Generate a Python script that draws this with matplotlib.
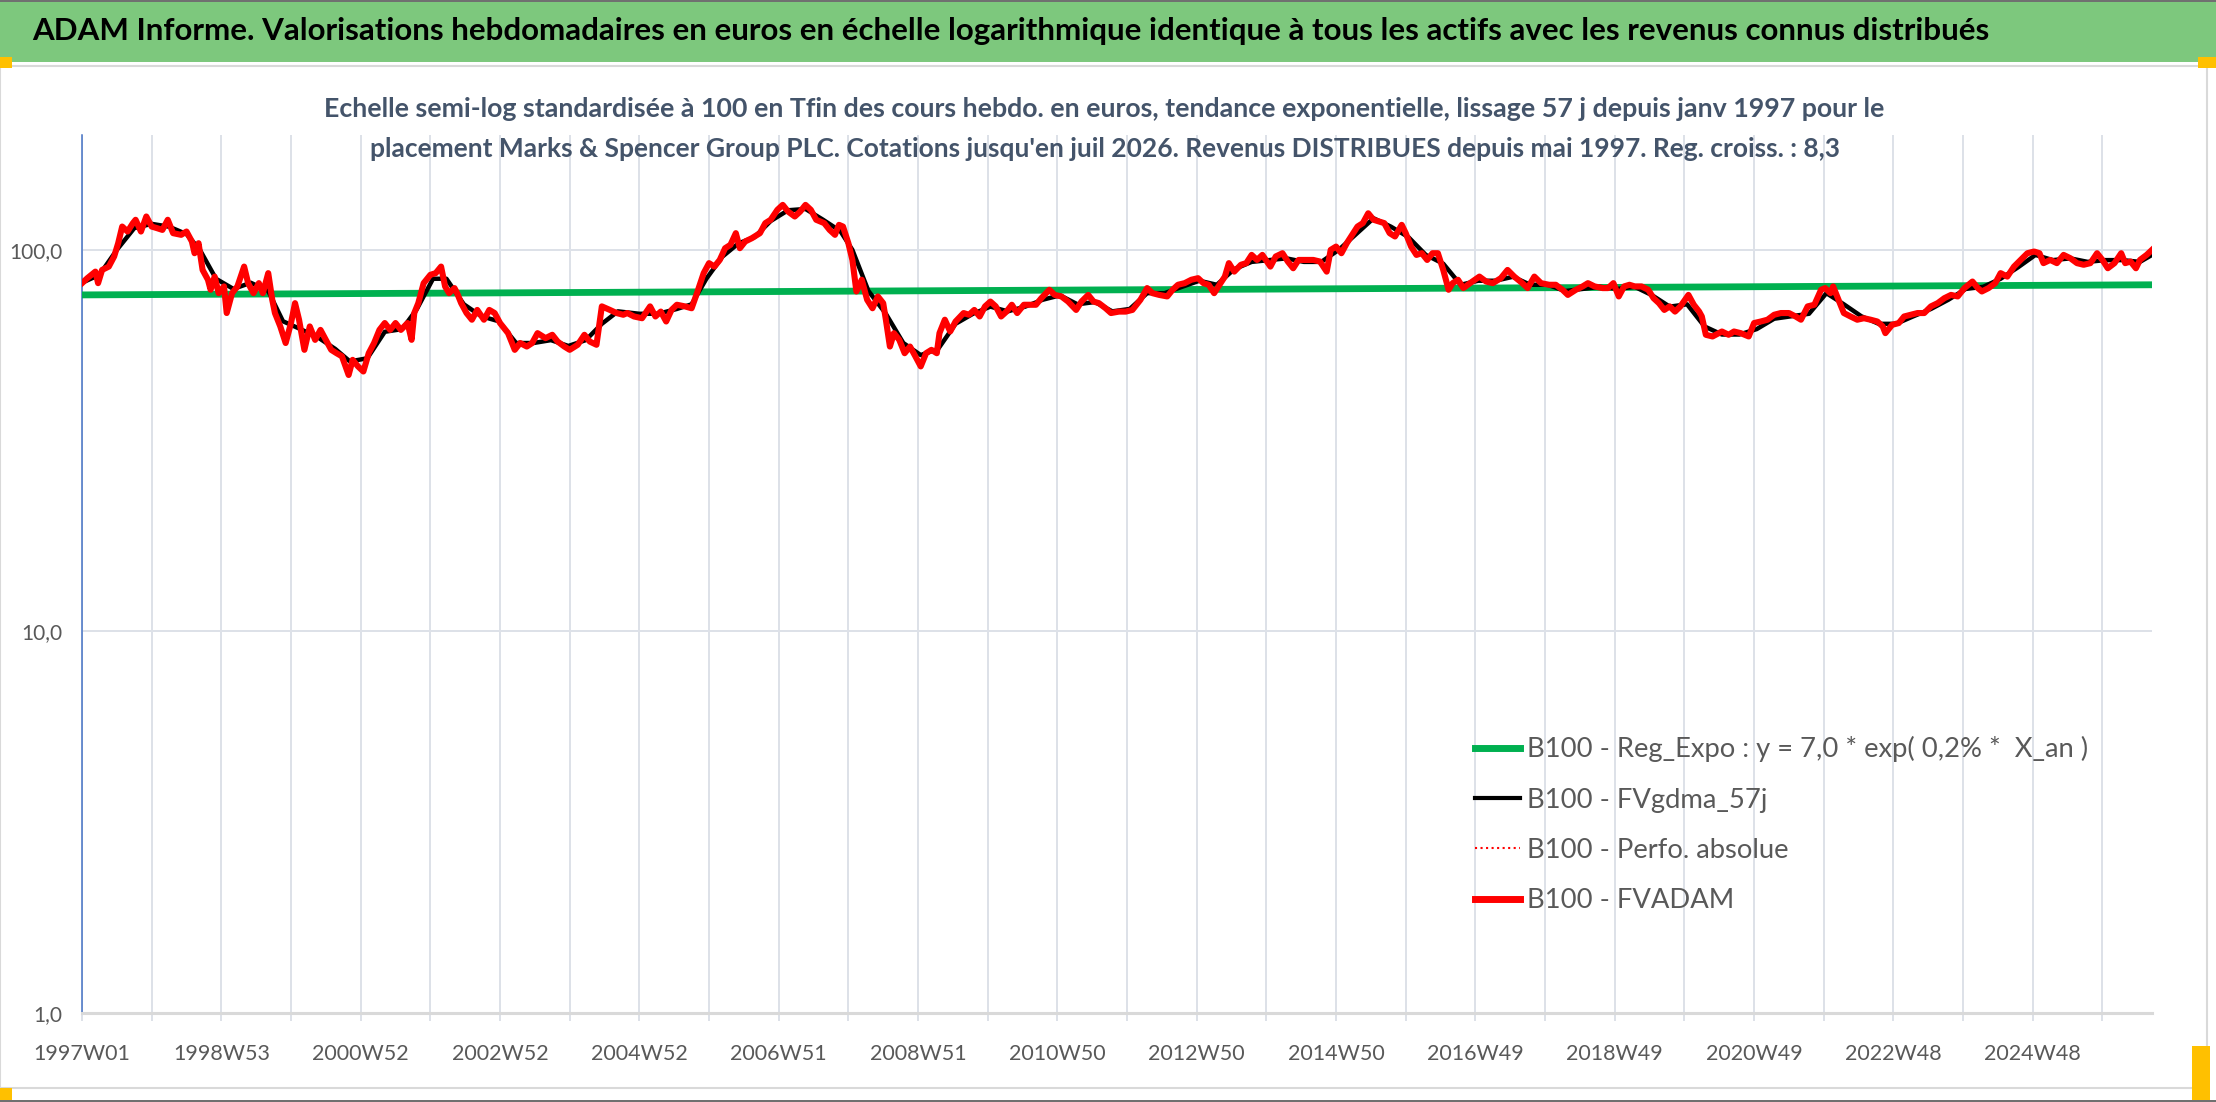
import matplotlib
matplotlib.use("Agg")
import matplotlib.pyplot as plt
from matplotlib.patches import Rectangle
from matplotlib.lines import Line2D
from matplotlib.ticker import FixedLocator, NullLocator, FuncFormatter

# ── canvas ────────────────────────────────────────────────────────────────────
W, H = 2216, 1102
DPI = 100
FONT = ["Lato", "DejaVu Sans"]

BANNER_GREEN = "#7DC87D"
ORANGE = "#FFC000"
SUB_COL = "#44546A"
TICK_COL = "#595959"
GRID_COL = "#DDE1E8"
AXIS_BLUE = "#4472C4"
REG_GREEN = "#00B050"
RED = "#FF0000"

# ── data (weekly index, 0 = 1997W01) ──────────────────────────────────────────
N_WEEKS = 1546
TICK_LABELS = ["1997W01", "1998W53", "2000W52", "2002W52", "2004W52", "2006W51",
               "2008W51", "2010W50", "2012W50", "2014W50", "2016W49", "2018W49",
               "2020W49", "2022W48", "2024W48"]

REG_WEEKS = [0, 1545]
REG_VALUES = [76.2, 81.0]

FVADAM_WEEKS = [
    0, 4, 10, 12, 15, 20, 24, 27, 30, 34, 38, 40, 44, 48, 52, 56, 60, 64, 68, 74,
    78, 82, 84, 87, 90, 94, 96, 99, 102, 106, 108, 112, 116, 121, 124, 128, 132, 135, 139, 142,
    144, 148, 152, 156, 159, 162, 166, 170, 174, 178, 182, 186, 190, 194, 199, 202, 206, 210, 214, 218,
    222, 226, 230, 234, 238, 243, 246, 248, 251, 255, 260, 264, 268, 271, 274, 278, 280, 283, 287, 291,
    295, 300, 304, 308, 312, 318, 323, 327, 332, 336, 340, 346, 351, 355, 360, 364, 370, 375, 379, 384,
    388, 394, 399, 404,
    407, 412, 418, 424, 428, 432, 436, 440, 444, 450, 455, 459, 464, 468, 472, 476, 480, 484, 488, 491,
    495, 500, 506, 510, 514, 519, 523, 527, 532, 536, 540, 544, 548, 554, 558, 562, 565, 568, 572, 575,
    578, 582, 586, 590, 594, 598, 600, 603, 606, 610, 614, 618, 622, 626, 630, 634, 638, 640, 644, 648,
    652, 658, 662, 666, 670, 674, 678, 682, 686, 690, 694, 698, 703, 708, 712, 716, 722, 726, 731, 736,
    742, 746, 751, 755, 759, 764, 768, 774, 779, 784, 790, 795, 799, 804, 810, 814, 818,
    823, 828, 833, 837, 841, 845, 849, 853, 856, 860, 865, 869, 873, 877, 881, 887, 891, 896, 900, 904,
    908, 913, 919, 924, 929, 932, 936, 940, 944, 948, 952, 956, 960, 964, 968, 972, 976, 980, 985, 988,
    992, 996, 1000, 1004, 1008, 1012, 1016, 1020, 1023, 1027, 1031, 1036, 1043, 1048, 1053, 1059, 1064, 1069, 1075, 1079,
    1084, 1089, 1095, 1100, 1105, 1109, 1115, 1120, 1124, 1129, 1135, 1139, 1143, 1147, 1151, 1155, 1159, 1164, 1169, 1173,
    1177, 1181, 1185, 1189, 1193, 1199, 1203, 1207, 1209, 1212, 1217, 1224, 1229,
    1233, 1238, 1244, 1248, 1253, 1258, 1263, 1268, 1274, 1279, 1283, 1288, 1293, 1298, 1301, 1305, 1307, 1311, 1315, 1320,
    1325, 1330, 1335, 1340, 1344, 1346, 1351, 1356, 1360, 1365, 1370, 1375, 1380, 1385, 1390, 1395, 1400, 1405, 1411, 1415,
    1418, 1423, 1428, 1432, 1437, 1442, 1447, 1452, 1457, 1461, 1464, 1469, 1474, 1479, 1484, 1489, 1494, 1499, 1504, 1508,
    1512, 1517, 1522, 1525, 1529, 1533, 1536, 1541, 1545,
]
FVADAM_VALUES = [
    81.8, 84.3, 87.7, 81.8, 88.6, 90.4, 96.1, 104.1, 115.1, 111.7, 117.5, 119.9, 111.7, 122.3, 115.1, 114.0, 112.8, 119.9, 110.6, 109.5,
    111.7, 105.2, 98.0, 104.1, 88.6, 83.5, 78.6, 85.1, 77.0, 80.2, 68.3, 77.0, 80.2, 90.4, 81.8, 77.0, 81.8, 77.0, 86.9, 74.0,
    68.3, 63.0, 57.0, 64.3, 72.5, 65.6, 54.7, 63.0, 58.1, 61.7, 58.1, 54.7, 53.6, 52.6, 47.0, 51.5, 49.5, 48.0, 53.6, 57.0,
    61.7, 64.3, 61.7, 64.3, 61.7, 64.3, 58.1, 68.3, 72.5, 81.8, 86.0, 86.9, 90.4, 80.2, 77.0, 79.4, 77.0, 72.5, 68.3, 65.6,
    69.6, 65.6, 69.6, 68.3, 64.3, 60.5, 54.7, 57.0, 55.8, 57.0, 60.5, 58.7, 59.9, 57.5, 55.8, 54.7, 56.4, 59.9, 57.5, 56.4,
    71.1, 69.6, 68.3, 67.6,
    68.3, 66.9, 66.2, 71.1, 66.9, 68.9, 64.9, 69.6, 71.8, 71.1, 70.3, 77.0, 86.9, 92.3, 90.4, 94.1, 101.0, 103.1, 110.6, 101.0,
    105.2, 107.3, 110.6, 117.5, 119.9, 127.3, 131.2, 126.0, 122.3, 126.0, 131.2, 127.3, 119.9, 117.5, 112.8, 109.5, 116.3, 115.1, 104.1, 94.1,
    77.8, 83.5, 74.0, 70.3, 75.5, 72.5, 65.6, 55.8, 60.5, 58.1, 53.6, 55.8, 52.6, 49.5, 53.6, 54.7, 53.6, 60.5, 65.6, 61.1,
    64.9, 68.3, 67.6, 69.6, 66.9, 71.1, 73.2, 71.1, 66.9, 68.9, 71.8, 68.3, 71.8, 71.8, 71.8, 74.7, 78.6, 76.2, 75.5, 73.2,
    69.6, 73.2, 76.2, 73.2, 72.5, 70.3, 68.3, 68.9, 68.9, 69.6, 74.0, 79.4, 77.0, 76.2, 75.5, 78.6, 81.0,
    81.8, 83.5, 84.3, 81.8, 81.0, 77.0, 81.0, 85.1, 92.3, 87.7, 91.4, 92.3, 97.0, 94.1, 97.0, 90.4, 96.1, 98.0, 93.2, 89.5,
    94.1, 94.1, 94.1, 93.2, 87.7, 100.0, 102.0, 98.0, 104.1, 109.5, 115.1, 117.5, 124.7, 119.9, 118.7, 117.5, 110.6, 108.4, 116.3, 110.6,
    102.0, 97.0, 98.0, 94.1, 98.0, 98.0, 88.6, 78.6, 81.8, 83.5, 79.4, 81.8, 85.1, 82.6, 81.8, 84.3, 88.6, 85.1, 81.8, 79.4,
    85.1, 81.8, 81.0, 81.0, 78.6, 76.2, 78.6, 80.2, 81.8, 80.2, 79.4, 79.4, 81.8, 75.5, 80.2, 81.0, 80.2, 80.2, 78.6, 74.7,
    72.5, 69.6, 71.1, 68.9, 71.1, 76.2, 71.8, 68.9, 66.9, 59.9, 59.3, 61.1, 59.9,
    61.1, 60.5, 59.3, 64.3, 64.9, 65.6, 67.6, 68.3, 68.3, 66.9, 65.6, 71.1, 71.8, 78.6, 79.4, 77.0, 80.2, 74.0, 68.3, 66.9,
    65.6, 66.2, 65.6, 64.9, 63.0, 60.5, 63.6, 64.3, 66.9, 67.6, 68.3, 68.3, 71.1, 72.5, 74.7, 76.2, 75.5, 79.4, 82.6, 79.4,
    77.8, 79.4, 81.8, 86.9, 85.1, 90.4, 94.1, 98.0, 99.0, 98.0, 92.3, 94.1, 92.3, 97.0, 95.1, 92.3, 91.4, 92.3, 98.0, 94.1,
    89.5, 92.3, 98.0, 92.3, 93.2, 89.5, 94.1, 97.0, 100.0,
]

SMOOTH_WEEKS = [
    0, 13, 26, 39, 52, 65, 78, 88, 100, 113, 126, 139, 150, 163, 176, 189, 200, 213, 226, 239,
    250, 262, 272, 285, 298, 311, 324, 337, 350, 363, 376, 388, 400, 416, 430, 444, 455, 466, 478, 490,
    502, 514, 527, 540, 553, 566, 575, 587, 600, 613, 626, 639, 652, 665, 678, 691, 704, 717, 730, 743,
    756, 769, 782, 795, 808, 821, 834, 847, 860, 873, 886, 899, 912, 925, 938, 951, 964, 977, 990, 1003,
    1016, 1029, 1042, 1055, 1068, 1081, 1094, 1107, 1120, 1133, 1146, 1159, 1172, 1185, 1198, 1211, 1224, 1237, 1250, 1263,
    1276, 1289, 1302, 1315, 1328, 1341, 1354, 1367, 1380, 1393, 1406, 1419, 1432, 1445, 1458, 1471, 1484, 1497, 1510, 1523,
    1536, 1545,
]
SMOOTH_VALUES = [
    82, 86, 100, 114, 117, 115, 110, 100, 84, 79, 82, 78, 65, 62, 59, 55, 51, 52, 61, 62,
    70, 84, 84, 72, 67, 65, 57, 57, 58, 56, 58, 64, 69, 68, 68, 70, 72, 84, 96, 104,
    108, 119, 127, 128, 120, 112, 100, 78, 68, 57, 53, 55, 64, 68, 71, 69, 71, 74, 76, 72,
    73, 69, 70, 77, 77, 80, 83, 81, 89, 93, 94, 95, 93, 93, 100, 110, 121, 115, 108, 97,
    92, 81, 83, 83, 85, 81, 81, 78, 79, 80, 79, 80, 76, 71, 72, 63, 60, 60, 62, 66,
    67, 68, 77, 72, 67, 64, 64, 67, 70, 74, 79, 80, 84, 90, 97, 94, 95, 93, 94, 94,
    93, 97,
]

assert len(FVADAM_WEEKS) == len(FVADAM_VALUES)
assert len(SMOOTH_WEEKS) == len(SMOOTH_VALUES)

TITLE = ("ADAM Informe. Valorisations hebdomadaires en euros en échelle logarithmique "
         "identique à tous les actifs avec les revenus connus distribués")
SUB1 = ("Echelle semi-log standardisée à 100 en Tfin des cours hebdo. en euros, tendance "
        "exponentielle, lissage 57 j depuis janv 1997 pour le")
SUB2 = ("placement Marks & Spencer Group PLC. Cotations jusqu'en juil 2026. Revenus "
        "DISTRIBUES depuis mai 1997. Reg. croiss. : 8,3")
LEGEND_LABELS = ["B100 - Reg_Expo : y = 7,0 * exp( 0,2% *  X_an )",
                 "B100 - FVgdma_57j",
                 "B100 - Perfo. absolue",
                 "B100 - FVADAM"]


def fx(px):
    return px / W


def fy(py):
    return 1 - py / H


def fit_width(fig, txt, target_px):
    r = fig.canvas.get_renderer()
    w = txt.get_window_extent(r).width
    txt.set_fontsize(txt.get_fontsize() * target_px / w)


fig = plt.figure(figsize=(W / DPI, H / DPI), dpi=DPI)
fig.patch.set_facecolor("white")

# frame pieces around the chart
fig.patches.append(Rectangle((0, fy(1088)), fx(2207), (1088 - 66) / H, transform=fig.transFigure,
                             facecolor="none", edgecolor="#D9D9D9", lw=1.5, zorder=-5))
fig.patches.append(Rectangle((0, fy(62)), 1, 60 / H, transform=fig.transFigure,
                             facecolor=BANNER_GREEN, edgecolor="none", zorder=-4))
fig.patches.append(Rectangle((0, fy(2)), 1, 2 / H, transform=fig.transFigure,
                             facecolor="#707070", edgecolor="none", zorder=-4))
fig.patches.append(Rectangle((0, 0), 1, 2 / H, transform=fig.transFigure,
                             facecolor="#707070", edgecolor="none", zorder=-4))
for x0, y0, x1, y1 in [(0, 57, 12, 68), (2198, 57, 2216, 68), (2192, 1046, 2210, 1100),
                       (0, 1088, 12, 1100)]:
    fig.patches.append(Rectangle((fx(x0), fy(y1)), fx(x1 - x0), (y1 - y0) / H,
                                 transform=fig.transFigure, facecolor=ORANGE,
                                 edgecolor="none", zorder=-3))

title = fig.text(fx(1011), fy(31), TITLE, ha="center", va="center", fontsize=21,
                 fontweight="bold", family=FONT, color="black")
s1 = fig.text(fx(1104), fy(109), SUB1, ha="center", va="center", fontsize=17,
              fontweight="bold", family=FONT, color=SUB_COL)
s2 = fig.text(fx(1105), fy(149), SUB2, ha="center", va="center", fontsize=17,
              fontweight="bold", family=FONT, color=SUB_COL)

# ── plot area ─────────────────────────────────────────────────────────────────
ax = fig.add_axes([fx(82), fy(1013), fx(2152 - 82), (1013 - 135) / H])
ax.set_facecolor("none")

ax.plot(REG_WEEKS, REG_VALUES, color=REG_GREEN, lw=4.9, solid_capstyle="butt", zorder=3)
ax.plot(SMOOTH_WEEKS, SMOOTH_VALUES, color="black", lw=3.2, zorder=4)
ax.plot(FVADAM_WEEKS, FVADAM_VALUES, color=RED, lw=1.2, ls=":", zorder=4.5)
ax.plot(FVADAM_WEEKS, FVADAM_VALUES, color=RED, lw=4.4, zorder=5)

ax.set_yscale("log")
ax.set_ylim(1, 200)
ax.set_xlim(0, N_WEEKS - 1)
ax.yaxis.set_major_locator(FixedLocator([1, 10, 100]))
ax.yaxis.set_minor_locator(NullLocator())
ax.yaxis.set_major_formatter(FuncFormatter(lambda v, p: f"{v:.1f}".replace(".", ",")))

tick_pos = list(range(0, N_WEEKS, 52))
ax.set_xticks(tick_pos)
ax.set_xticklabels([TICK_LABELS[i // 2] if i % 2 == 0 else "" for i in range(len(tick_pos))])

ax.grid(True, axis="both", color=GRID_COL, lw=1.4, zorder=0)
ax.set_axisbelow(True)
for s in ("top", "right"):
    ax.spines[s].set_visible(False)
ax.spines["left"].set_color(AXIS_BLUE)
ax.spines["left"].set_linewidth(1.1)
ax.spines["bottom"].set_color("#D9D9D9")
ax.spines["bottom"].set_linewidth(2.2)

ax.tick_params(axis="y", length=0, pad=14, labelsize=15, labelcolor=TICK_COL)
ax.tick_params(axis="x", length=6, width=1.4, color=GRID_COL, pad=16,
               labelsize=15.5, labelcolor=TICK_COL)
for lab in ax.get_xticklabels() + ax.get_yticklabels():
    lab.set_family(FONT)

handles = [Line2D([], [], color=REG_GREEN, lw=5),
           Line2D([], [], color="black", lw=3),
           Line2D([], [], color=RED, lw=1.5, ls=":"),
           Line2D([], [], color=RED, lw=5)]
leg = ax.legend(handles, LEGEND_LABELS, loc="upper left",
                bbox_to_anchor=(fx(1475), fy(736)), bbox_transform=fig.transFigure,
                frameon=False, borderpad=0, borderaxespad=0, handlelength=1.65,
                handletextpad=0.25, labelspacing=0.93,
                prop={"family": FONT, "size": 19.7})
for t in leg.get_texts():
    t.set_color(TICK_COL)

fig.canvas.draw()
fit_width(fig, title, 1953)
fit_width(fig, s1, 1564)
fit_width(fig, s2, 1478)

fig.savefig("out.png", dpi=DPI, facecolor="white")
